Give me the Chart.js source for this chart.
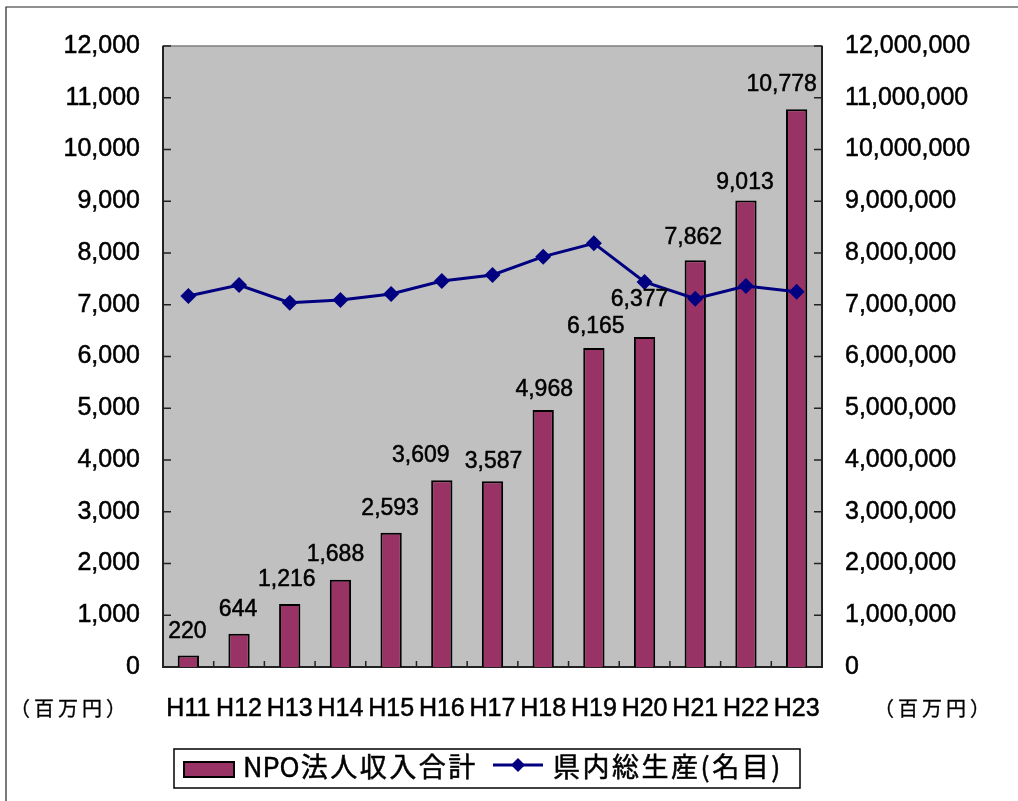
<!DOCTYPE html>
<html>
<head>
<meta charset="utf-8">
<script src="https://cdn.jsdelivr.net/npm/chart.js@4/dist/chart.umd.min.js"></script>
<style>
html,body{margin:0;padding:0;background:#fff;}
#wrap{position:relative;width:1018px;height:801px;}
</style>
</head>
<body>
<div id="wrap"><canvas id="c" width="1018" height="801"></canvas></div>
<script>
// ---- data ----
const categories = ['H11','H12','H13','H14','H15','H16','H17','H18','H19','H20','H21','H22','H23'];
const npoIncome = [220, 644, 1216, 1688, 2593, 3609, 3587, 4968, 6165, 6377, 7862, 9013, 10778];
const prefGdp = [7169000, 7382000, 7040000, 7092000, 7208000, 7459000, 7575000, 7929000, 8187000, 7440000, 7117000, 7362000, 7253000];
const seriesNames = ['NPO法人収入合計', '県内総生産(名目)'];
const unitLabel = '（百万円）';
// label offsets (styling only, pixels)
const labelDx = [-1, -1, -3, -5, -1, -21, 1, 1, 2, -5, -2, -1, -15];
const labelDy = [-24, -24, -24, -25, -24, -25, -20, -20, -21, -37, -22, -18, -25];

const NUMFONT = '"Liberation Sans", Arial, sans-serif';
const CJKFONT = '"Noto Sans CJK JP", "Noto Sans", sans-serif';
const BAR = '#993366';
const LINE = '#000080';

function heavyText(ctx, txt, x, y, w) {
  ctx.fillText(txt, x, y);
  ctx.lineWidth = w;
  ctx.strokeStyle = ctx.fillStyle;
  ctx.strokeText(txt, x, y);
}

const decor = {
  id: 'decor',
  beforeDraw(chart) {
    const {ctx, chartArea: a} = chart;
    ctx.save();
    ctx.fillStyle = '#fff';
    ctx.fillRect(0, 0, chart.width, chart.height);
    ctx.strokeStyle = '#222';
    ctx.lineWidth = 1.2;
    ctx.beginPath();
    ctx.moveTo(6, 830); ctx.lineTo(6, 7); ctx.lineTo(1030, 7);
    ctx.stroke();
    ctx.fillStyle = '#C0C0C0';
    ctx.fillRect(a.left, a.top, a.right - a.left, a.bottom - a.top);
    ctx.strokeStyle = '#808080';
    ctx.lineWidth = 1.5;
    ctx.strokeRect(a.left, a.top, a.right - a.left, a.bottom - a.top);
    ctx.restore();
  },
  beforeDatasetsDraw(chart) {
    const {ctx, chartArea: a, scales} = chart;
    ctx.save();
    ctx.strokeStyle = '#222';
    ctx.lineWidth = 2;
    ctx.beginPath();
    ctx.moveTo(a.left, a.top); ctx.lineTo(a.left, a.bottom); ctx.lineTo(a.right, a.bottom); ctx.lineTo(a.right, a.top);
    ctx.stroke();
    ctx.lineWidth = 1.5;
    ctx.beginPath();
    scales.y.ticks.forEach((t, i) => {
      const y = scales.y.getPixelForTick(i);
      ctx.moveTo(a.left, y); ctx.lineTo(a.left + 8, y);
    });
    scales.y1.ticks.forEach((t, i) => {
      const y = scales.y1.getPixelForTick(i);
      ctx.moveTo(a.right, y); ctx.lineTo(a.right - 8, y);
    });
    const n = categories.length;
    const w = (a.right - a.left) / n;
    for (let i = 1; i < n; i++) {
      const x = a.left + w * i;
      ctx.moveTo(x, a.bottom); ctx.lineTo(x, a.bottom - 6);
    }
    ctx.stroke();
    ctx.restore();
  },
  afterDraw(chart) {
    const {ctx} = chart;
    const meta = chart.getDatasetMeta(1);
    ctx.save();
    ctx.fillStyle = '#000';
    ctx.font = '23px ' + NUMFONT;
    ctx.textAlign = 'center';
    ctx.textBaseline = 'middle';
    meta.data.forEach((bar, i) => {
      heavyText(ctx, npoIncome[i].toLocaleString('en-US'), bar.x + labelDx[i], bar.y + labelDy[i], 0.5);
    });
    // unit labels
    ctx.font = '20px ' + CJKFONT;
    ctx.letterSpacing = '4px';
    heavyText(ctx, unitLabel, 70, 708, 0.3);
    heavyText(ctx, unitLabel, 934, 708, 0.3);
    // legend
    ctx.letterSpacing = '0px';
    ctx.fillStyle = '#fff';
    ctx.fillRect(174, 749, 626, 39);
    ctx.strokeStyle = '#000';
    ctx.lineWidth = 1.5;
    ctx.strokeRect(174, 749, 626, 39);
    ctx.fillStyle = BAR;
    ctx.fillRect(184, 762, 50, 15);
    ctx.lineWidth = 2;
    ctx.strokeRect(184, 762, 50, 15);
    ctx.fillStyle = '#000';
    ctx.textAlign = 'left';
    ctx.font = '27px ' + CJKFONT;
    const t0 = seriesNames[0];
    const latin = t0.slice(0, 3), cjk = t0.slice(3);
    heavyText(ctx, latin, 243, 767, 0.5);
    const lw = ctx.measureText(latin).width;
    ctx.letterSpacing = '2.5px';
    heavyText(ctx, cjk, 243 + lw + 1, 767, 0.5);
    ctx.strokeStyle = LINE;
    ctx.lineWidth = 3;
    ctx.beginPath(); ctx.moveTo(493, 765); ctx.lineTo(543, 765); ctx.stroke();
    ctx.fillStyle = LINE;
    ctx.beginPath();
    ctx.moveTo(518, 758); ctx.lineTo(525, 765); ctx.lineTo(518, 772); ctx.lineTo(511, 765); ctx.closePath(); ctx.fill();
    ctx.fillStyle = '#000';
    heavyText(ctx, seriesNames[1], 553, 767, 0.5);
    ctx.restore();
  }
};

const tickFont = {family: NUMFONT, size: 25};
new Chart(document.getElementById('c'), {
  data: {
    labels: categories,
    datasets: [
      {
        type: 'line',
        label: seriesNames[1],
        data: prefGdp,
        yAxisID: 'y1',
        borderColor: LINE,
        backgroundColor: LINE,
        borderWidth: 3,
        pointStyle: 'rectRot',
        pointRadius: 8,
        pointBorderWidth: 0,
        pointBackgroundColor: LINE,
        tension: 0,
        order: 0
      },
      {
        type: 'bar',
        label: seriesNames[0],
        data: npoIncome,
        yAxisID: 'y',
        backgroundColor: BAR,
        borderColor: '#000',
        borderWidth: 2,
        barPercentage: 0.42,
        categoryPercentage: 1,
        order: 1
      }
    ]
  },
  options: {
    responsive: false,
    animation: false,
    devicePixelRatio: 1,
    layout: {padding: {top: 46, left: 0, right: 0, bottom: 0}},
    plugins: {legend: {display: false}, tooltip: {enabled: false}},
    scales: {
      x: {
        offset: true,
        grid: {display: false, drawTicks: false},
        border: {display: false},
        ticks: {color: '#000', font: tickFont, padding: 27, maxRotation: 0, autoSkip: false,
          textStrokeColor: '#000', textStrokeWidth: 0.5},
        afterFit(s) { s.height = 134; }
      },
      y: {
        position: 'left',
        min: 0, max: 12000,
        grid: {display: false, drawTicks: false},
        border: {display: false},
        ticks: {stepSize: 1000, color: '#000', font: tickFont, padding: 23,
          textStrokeColor: '#000', textStrokeWidth: 0.5,
          callback: v => v.toLocaleString('en-US')},
        afterFit(s) { s.width = 163; }
      },
      y1: {
        position: 'right',
        min: 0, max: 12000000,
        grid: {display: false, drawTicks: false},
        border: {display: false},
        ticks: {stepSize: 1000000, color: '#000', font: tickFont, padding: 23,
          textStrokeColor: '#000', textStrokeWidth: 0.5,
          callback: v => v.toLocaleString('en-US')},
        afterFit(s) { s.width = 196; }
      }
    }
  },
  plugins: [decor]
});
</script>
</body>
</html>
